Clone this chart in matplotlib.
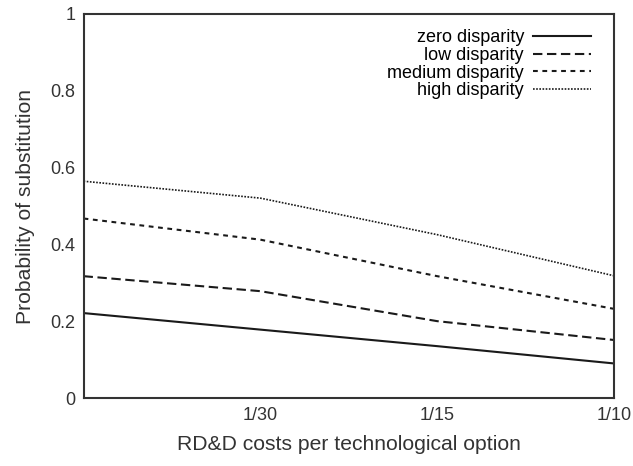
import matplotlib
matplotlib.use('Agg')
from matplotlib import pyplot as plt

# RD&D cost levels (first point is the left edge of the axis)
costs = [0, 1/30, 1/15, 1/10]
cost_ticks = [1/30, 1/15, 1/10]
cost_labels = ['1/30', '1/15', '1/10']

zero_disparity = [0.222, 0.179, 0.136, 0.091]
low_disparity = [0.318, 0.279, 0.201, 0.152]
medium_disparity = [0.468, 0.413, 0.318, 0.233]
high_disparity = [0.565, 0.521, 0.426, 0.319]

plt.rcParams['font.family'] = ['Liberation Sans', 'DejaVu Sans']

fig = plt.figure(figsize=(6.33, 4.66), dpi=100)
ax = fig.add_axes([0.132, 0.145, 0.838, 0.825])

ink = '#1a1a1a'
ax.plot(costs, zero_disparity, color=ink, lw=1.5, ls='-', label='zero disparity')
ax.plot(costs, low_disparity, color=ink, lw=1.5, ls=(0, (4.5, 2.2)), label='low disparity')
ax.plot(costs, medium_disparity, color=ink, lw=1.5, ls=(0, (2.3, 2.2)), label='medium disparity')
ax.plot(costs, high_disparity, color=ink, lw=1.2, ls=(0, (1, 0.9)), label='high disparity')

ax.set_xlim(0, 0.1)
ax.set_ylim(0, 1)
ax.set_xticks(cost_ticks)
ax.set_xticklabels(cost_labels)
ax.set_yticks([0, 0.2, 0.4, 0.6, 0.8, 1])
ax.set_yticklabels(['0', '0.2', '0.4', '0.6', '0.8', '1'])
ax.tick_params(length=0, labelsize=13, colors='#333333', pad=6)

for spine in ax.spines.values():
    spine.set_linewidth(1.5)
    spine.set_color('#333333')

ax.set_xlabel('RD&D costs per technological option', fontsize=15.2, color='#333333', labelpad=8)
ax.set_ylabel('Probability of substitution', fontsize=15.2, color='#333333', labelpad=11)

ax.legend(loc='upper right', frameon=False, markerfirst=False, fontsize=13,
          handlelength=3.2, labelspacing=0.04, borderaxespad=0.5, borderpad=0.35,
          handletextpad=0.5, bbox_to_anchor=(0.985, 1.0))

fig.savefig('out.png', dpi=100)
